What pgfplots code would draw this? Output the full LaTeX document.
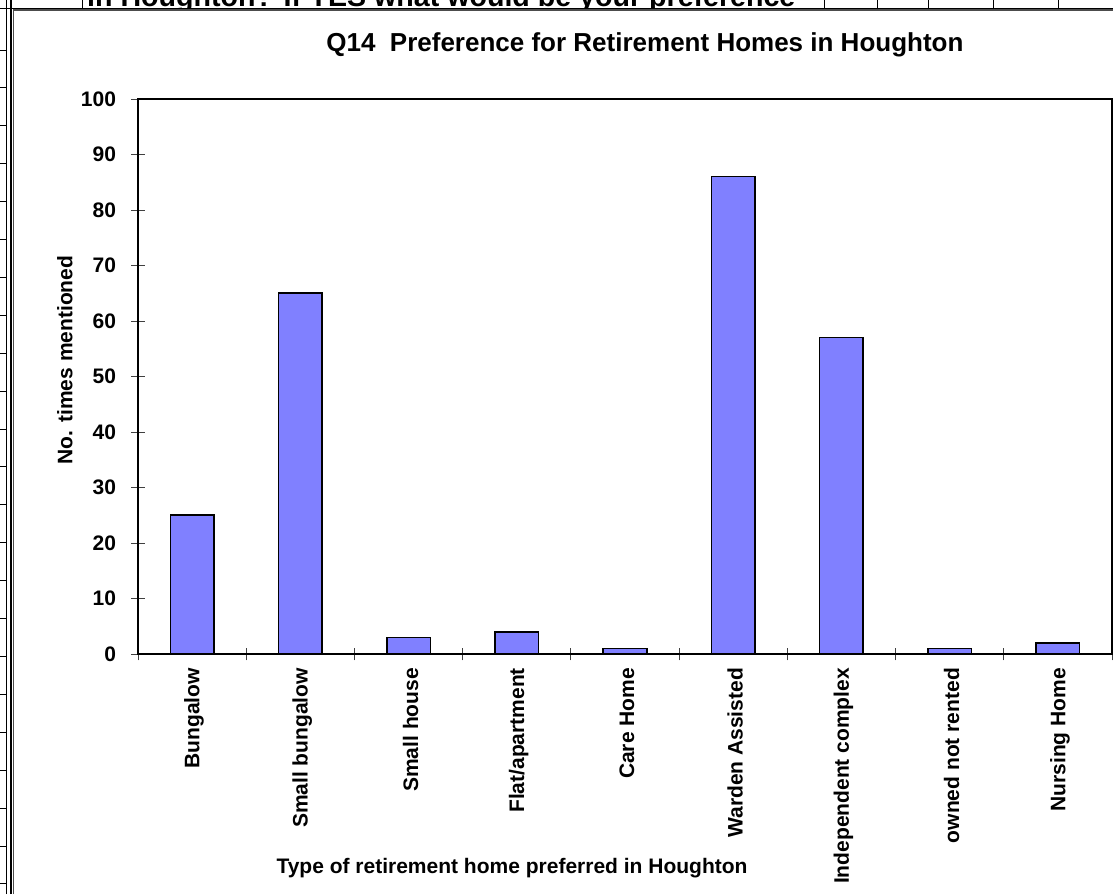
\documentclass[border=0pt]{standalone}
\usepackage{fontspec}
\setmainfont{Liberation Sans}
\usepackage{pgfplots}
\pgfplotsset{compat=1.18}
\definecolor{barblue}{RGB}{128,128,255}
\begin{document}
\begin{tikzpicture}[x=1pt,y=1pt]
\useasboundingbox (0,0) rectangle (1113,894);
\clip (0,0) rectangle (1113,894);
% spreadsheet text above the chart (cropped)
\node[anchor=base west, inner sep=0, font=\fontsize{28.6}{30}\selectfont\bfseries] at (87,887.5) {in Houghton? If YES what would be your preference};
\fill[white] (0,0) rectangle (1113,885.5);
\draw[line width=1.6pt] (0,885.5) -- (1113,885.5);
\foreach \x in {82,824,877,928,993,1058} \draw[line width=0.8pt] (\x,894) -- (\x,885.5);
\draw[line width=1.6pt] (6.5,0) -- (6.5,894);
\draw[line width=1.6pt] (10.8,0) -- (10.8,894);
\foreach \k in {0,...,22} \draw[line width=0.8pt] (0,{844-37.9*\k}) -- (6.5,{844-37.9*\k});
\draw[black!70, line width=1.2pt] (13.2,0) -- (13.2,884) -- (1113,884);
\begin{axis}[
  at={(138pt,240pt)}, anchor=south west,
  width=974pt, height=555pt, scale only axis,
  xmin=-0.5, xmax=8.5, ymin=0, ymax=100,
  ytick={0,10,...,100},
  xtick={0,...,8},
  xticklabels={Bungalow, Small bungalow, Small house, Flat/apartment, Care Home, Warden Assisted, Independent complex, owned not rented, Nursing Home},
  minor xtick={-0.5,0.5,...,8.5},
  major x tick style={draw=none},
  xtick pos=bottom, ytick pos=left,
  tick align=center,
  major tick length=13pt, minor tick length=13pt,
  every tick/.style={black!75, line width=0.9pt},
  axis line style={line width=2pt},
  /pgf/number format/assume math mode=true,
  tick label style={font=\fontsize{21}{25}\selectfont\bfseries},
  x tick label style={rotate=90, anchor=east, xshift=-4pt, yshift=-2pt},
  y tick label style={xshift=-12pt},
  title={Q14\ \ Preference for Retirement Homes in Houghton},
  title style={at={(axis description cs:0.5205,1.0739)}, anchor=base, font=\fontsize{26}{30}\selectfont\bfseries},
  ylabel={No. times mentioned},
  ylabel style={at={(axis description cs:-0.075,0.5297)}, anchor=center, rotate=0, font=\fontsize{21}{25}\selectfont\bfseries},
  xlabel={Type of retirement home preferred in Houghton},
  xlabel style={at={(axis description cs:0.384,-0.386)}, anchor=center, font=\fontsize{21}{25}\selectfont\bfseries},
]
\addplot[ybar, bar width=43.6pt, fill=barblue, draw=black, line width=1.6pt] coordinates {
(0,25) (1,65) (2,3) (3,4) (4,1) (5,86) (6,57) (7,1) (8,2)};
\end{axis}
\end{tikzpicture}
\end{document}
